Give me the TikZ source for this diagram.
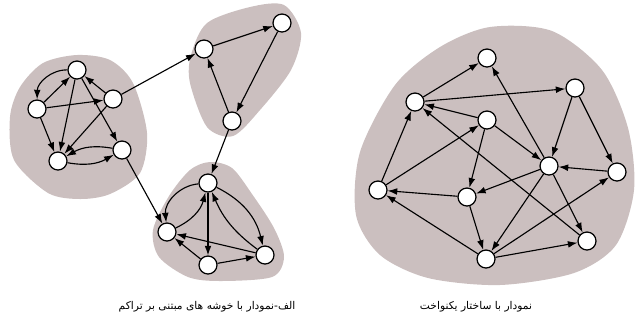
\documentclass[tikz,border=0pt]{standalone}
\usepackage{fontspec}
\newfontfamily\arabicfont[Script=Arabic]{DejaVu Sans}
\TeXXeTstate=1
\usepackage{xcolor}
\definecolor{blobgray}{RGB}{203,191,191}
\usepackage{tikz}
\usetikzlibrary{arrows.meta}
\tikzset{
    vertex/.style={draw, circle, fill=white, line width=0.9pt, minimum size=4.5mm, inner sep=0pt},
    cluster/.style={fill=blobgray, draw=none},
    link/.style={-{Latex[length=2.4mm,width=1.7mm]}, line width=0.8pt},
    caption/.style={font=\arabicfont\fontsize{7.6}{9}\selectfont}
}

\begin{document}
\begin{tikzpicture}[x=0.25mm, y=-0.25mm]
              \useasboundingbox (0,0) rectangle (636,321);
              % shaded regions
              \fill[cluster] plot[smooth cycle] coordinates {(77,55) (110,60) (133,83) (147,133) (140,173) (110,194) (80,199) (48,193) (14,160) (10,117) (20,87) (43,63)};
              \fill[cluster] plot[smooth cycle] coordinates {(250,7) (284,5) (301,33) (291,70) (260,110) (233,136) (207,127) (190,83) (191,55) (207,23)};
              \fill[cluster] plot[smooth cycle] coordinates {(210,162) (232,168) (252,194) (274,228) (284,257) (272,277) (220,281) (188,277) (159,257) (153,230) (169,196) (190,170)};
              \fill[cluster] plot[smooth cycle] coordinates {(490,27) (552,31) (602,70) (628,128) (634,190) (616,245) (574,273) (500,285) (428,278) (380,255) (356,215) (360,152) (395,85) (440,47)};

              % clustered graph
              \path
                  (77,70) node[vertex] (a1) {}
                  (37,109) node[vertex] (a2) {}
                  (113,99) node[vertex] (a3) {}
                  (58,161) node[vertex] (a4) {}
                  (122,150) node[vertex] (a5) {};
              \path
                  (204,49) node[vertex] (b1) {}
                  (282,23) node[vertex] (b2) {}
                  (232,121) node[vertex] (b3) {};
              \path
                  (208,183) node[vertex] (c1) {}
                  (167,232) node[vertex] (c2) {}
                  (208,265) node[vertex] (c3) {}
                  (265,255) node[vertex] (c4) {};

              \draw[link] (a1) edge[bend right=45] (a2) (a2) edge (a1) (a2) edge (a3) (a3) edge (a1)
                  (a2) edge (a4) (a1) edge (a4) (a3) edge (a4) (a1) edge (a5)
                  (a5) edge[bend right=20] (a4) (a4) edge[bend right=20] (a5);
              \draw[link] (b1) edge (b2) (b2) edge (b3) (b3) edge (b1);
              \draw[link] (c1) edge[bend right=45] (c2) (c2) edge[bend right=25] (c1) (c1) edge (c3)
                  (c1) edge[bend left=25] (c4) (c4) edge[bend left=15] (c1)
                  (c4) edge (c2) (c3) edge (c2) (c3) edge (c4);
              \draw[link] (a3) edge (b1) (a5) edge (c2) (b3) edge (c1);

              % uniform graph
              \path
                  (487,58) node[vertex] (u1) {}
                  (415,102) node[vertex] (u2) {}
                  (575,88) node[vertex] (u3) {}
                  (487,120) node[vertex] (u4) {}
                  (549,166) node[vertex] (u5) {}
                  (617,172) node[vertex] (u6) {}
                  (378,190) node[vertex] (u7) {}
                  (467,197) node[vertex] (u8) {}
                  (587,241) node[vertex] (u9) {}
                  (486,259) node[vertex] (u10) {};

              \draw[link] (u2) edge (u1) (u2) edge (u3) (u4) edge (u2) (u9) edge (u2) (u5) edge (u1)
                  (u7) edge (u2) (u7) edge (u4) (u8) edge (u7) (u10) edge (u7) (u4) edge (u8)
                  (u4) edge (u5) (u3) edge (u5) (u3) edge (u6) (u6) edge (u5) (u5) edge (u8)
                  (u5) edge (u10) (u5) edge (u9) (u10) edge (u6) (u10) edge (u9) (u8) edge (u10);

              \node[caption] (capA) at (207,307) {\beginR الف-نمودار با خوشه های مبتنی بر تراکم\endR};
              \node[caption] (capB) at (476,307) {\beginR نمودار با ساختار یکنواخت\endR};
          \end{tikzpicture}
\end{document}
